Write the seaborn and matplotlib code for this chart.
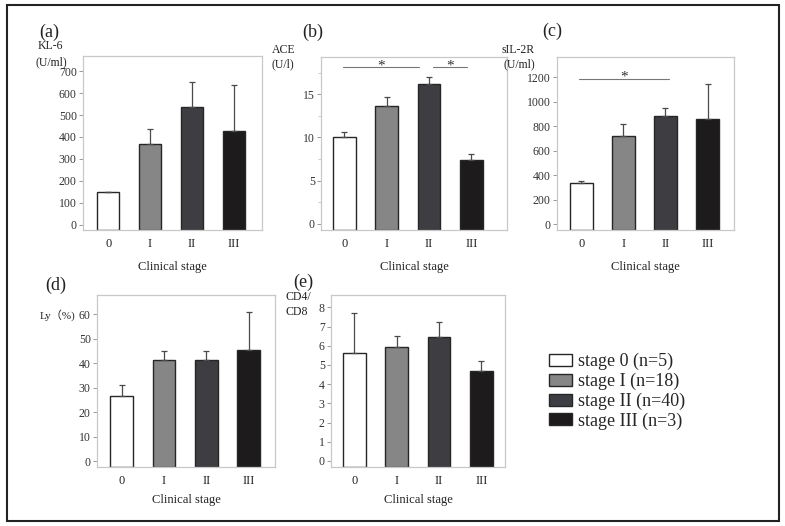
import matplotlib
matplotlib.use("Agg")
import matplotlib.pyplot as plt
import seaborn as sns
import pandas as pd
from matplotlib.patches import Patch, Rectangle

# datos
stages = ["0", "I", "II", "III"]
legend_labels = ["stage 0 (n=5)", "stage I (n=18)", "stage II (n=40)", "stage III (n=3)"]
colors = ["#ffffff", "#868686", "#3d3e43", "#1d1b1c"]

kl6 = [147, 368, 536, 427]
kl6_err = [0, 68, 114, 209]
ace = [10.0, 13.6, 16.2, 7.4]
ace_err = [0.65, 1.1, 0.8, 0.65]
sil2r = [338, 722, 881, 859]
sil2r_err = [11, 96, 68, 284]
ly = [26.6, 41.2, 41.2, 45.5]
ly_err = [4.4, 3.8, 3.7, 15.6]
cd48 = [5.6, 5.95, 6.44, 4.70]
cd48_err = [2.09, 0.58, 0.80, 0.52]

# líneas de significancia: (x inicio, x fin, altura)
ace_sig = [(-0.03, 1.76, 18.2), (2.09, 2.9, 18.2)]
sil2r_sig = [(-0.06, 2.08, 1187)]

sns.set_theme(style="white")
plt.rcParams['font.family'] = ['Liberation Serif', 'Noto Sans CJK JP', 'DejaVu Serif']

fig = plt.figure(figsize=(7.85, 5.26), dpi=100)
W, H = 785, 526


def px_axes(left, top, right, bottom):
    return fig.add_axes([left / W, 1 - bottom / H, (right - left) / W, (bottom - top) / H])


def panel(ax, vals, errs, ylim, xlim, yticks, labelpad):
    df = pd.DataFrame({"stage": stages, "value": vals})
    sns.barplot(data=df, x="stage", y="value", hue="stage", order=stages,
                hue_order=stages, palette=colors, width=0.53, edgecolor="#262626",
                linewidth=1.0, legend=False, ax=ax)
    ax.set_ylim(*ylim)
    ax.set_xlim(*xlim)
    # las barras arrancan desde el borde inferior del recuadro
    for p in ax.patches:
        h = p.get_height()
        p.set_y(ylim[0])
        p.set_height(h - ylim[0])
    ax.errorbar(range(len(stages)), vals, yerr=[[0] * len(errs), errs], fmt="none",
                ecolor="#4a4a4a", elinewidth=0.9, capsize=2.5, capthick=0.9, zorder=5)
    ax.set_yticks(yticks)
    ax.set_xlabel("Clinical stage", fontsize=9, labelpad=labelpad, color="#222")
    ax.set_ylabel("")
    for s in ax.spines.values():
        s.set_color("#c8c8c8")
        s.set_linewidth(0.9)
    ax.tick_params(axis="y", direction="out", length=3, width=0.7, color="#999",
                   pad=1.5, labelsize=8.5, labelcolor="#333", left=True)
    ax.tick_params(axis="x", length=0, pad=6, labelsize=9, labelcolor="#222")


# (a)
ax_a = px_axes(83, 56, 262, 230)
panel(ax_a, kl6, kl6_err, (-25, 770), (-0.6, 3.67), range(0, 701, 100), 8)

# (b)
ax_b = px_axes(321, 57, 507, 230)
panel(ax_b, ace, ace_err, (-0.7, 19.3), (-0.55, 3.84), [0, 5, 10, 15], 8)
ax_b.set_yticks([2.5, 7.5, 12.5, 17.5], minor=True)
ax_b.tick_params(axis="y", which="minor", length=2, width=0.6, color="#c0c0c0", left=True)
for x0, x1, y in ace_sig:
    ax_b.plot([x0, x1], [y, y], color="#777", lw=0.8)
    ax_b.text((x0 + x1) / 2, y + 0.1, "*", ha="center", va="center", fontsize=11, color="#333")

# (c)
ax_c = px_axes(557, 57, 734, 230)
panel(ax_c, sil2r, sil2r_err, (-49, 1367), (-0.58, 3.63), range(0, 1201, 200), 8)
for x0, x1, y in sil2r_sig:
    ax_c.plot([x0, x1], [y, y], color="#777", lw=0.8)
    ax_c.text((x0 + x1) / 2, y + 12, "*", ha="center", va="center", fontsize=11, color="#333")

# (d)
ax_d = px_axes(97, 294.7, 275, 466.7)
panel(ax_d, ly, ly_err, (-2.3, 68), (-0.58, 3.62), range(0, 61, 10), 5)

# (e)
ax_e = px_axes(331, 294.7, 505, 466.7)
panel(ax_e, cd48, cd48_err, (-0.3, 8.66), (-0.55, 3.56), range(0, 9), 5)

# rótulos de panel y unidades
def ftext(x, y, s, size, ha="left"):
    fig.text(x / W, 1 - y / H, s, fontsize=size, ha=ha, va="center", color="#222")

ftext(39, 32, "(a)", 13)
ftext(38, 46, "KL-6", 8.5)
ftext(36, 62, "(U/ml)", 8.5)
ftext(302, 32, "(b)", 13)
ftext(272, 50, "ACE", 8.5)
ftext(272, 64, "(U/l)", 8.5)
ftext(542, 31, "(c)", 13)
ftext(502, 50, "sIL-2R", 8.5)
ftext(504, 64, "(U/ml)", 8.5)
ftext(45, 285, "(d)", 13)
ftext(40, 315, "Ly（%)", 8)
ftext(293, 282, "(e)", 13)
ftext(286, 297, "CD4/", 8.5)
ftext(286, 312, "CD8", 8.5)

# leyenda
handles = [Patch(facecolor=c, edgecolor="#262626", linewidth=1.0) for c in colors]
fig.legend(handles, legend_labels, loc="upper left", bbox_to_anchor=(549 / W, 1 - 353 / H),
           frameon=False, fontsize=13, handlelength=1.3, handleheight=0.65,
           handletextpad=0.3, labelspacing=0.14, borderpad=0, borderaxespad=0)

# marco exterior
fig.add_artist(Rectangle((7 / W, 1 - 521 / H), 772 / W, 516 / H, transform=fig.transFigure,
                         fill=False, edgecolor="#222", linewidth=1.5))

plt.savefig("out.png", dpi=100)
plt.close()
